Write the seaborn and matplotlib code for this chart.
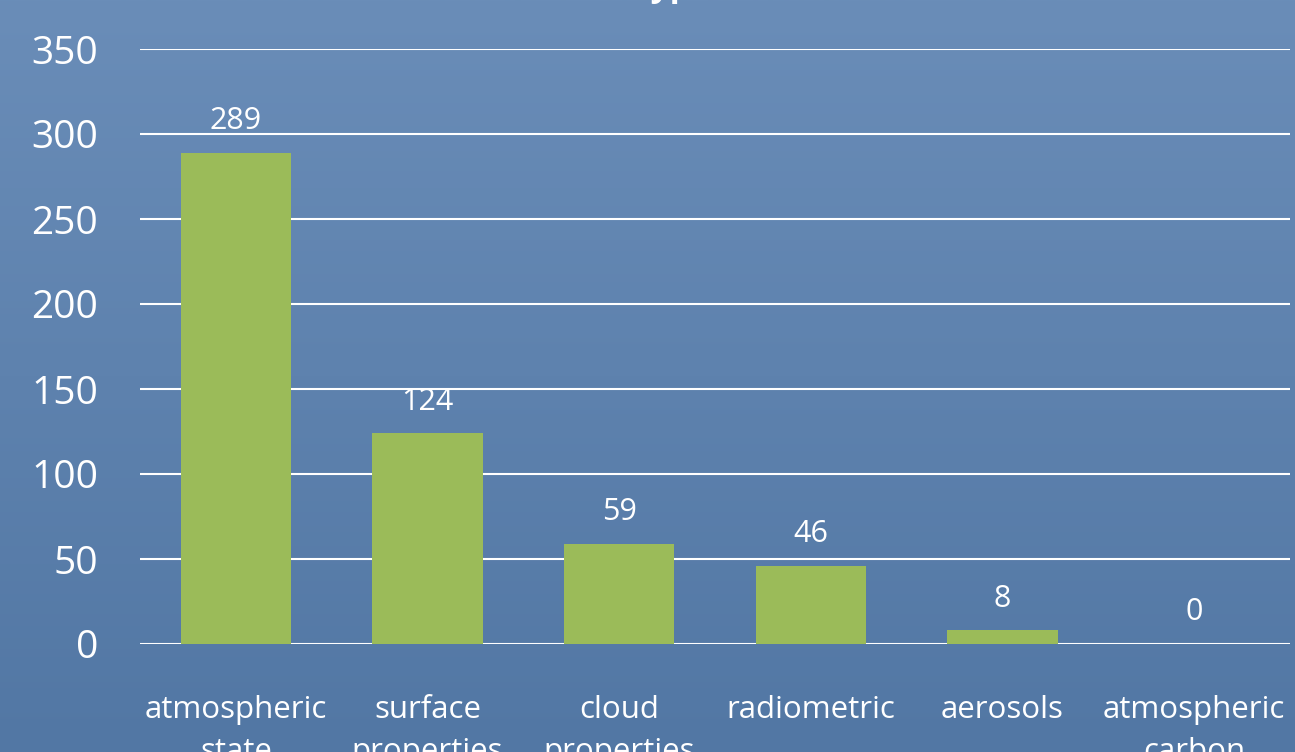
import numpy as np
import pandas as pd
import matplotlib
matplotlib.use("Agg")
import matplotlib.pyplot as plt
import seaborn as sns

categories = ["atmospheric\nstate", "surface\nproperties", "cloud\nproperties",
              "radiometric", "aerosols", "atmospheric\ncarbon"]
counts = [289, 124, 59, 46, 8, 0]
y_ticks = [0, 50, 100, 150, 200, 250, 300, 350]
title = "Data types"

sns.set_theme(style="white")
plt.rcParams["font.family"] = ["Open Sans", "DejaVu Sans"]

df = pd.DataFrame({"category": categories, "count": counts})

fig = plt.figure(figsize=(12.95, 7.52), dpi=100)

# background gradient over whole figure
bg = fig.add_axes([0, 0, 1, 1], zorder=-10)
top_c = np.array([106, 141, 184]) / 255
bot_c = np.array([82, 119, 164]) / 255
t = np.linspace(0, 1, 256)[:, None]
grad = (top_c * (1 - t) + bot_c * t)[:, None, :]
bg.imshow(grad, aspect="auto", extent=[0, 1, 0, 1])
bg.axis("off")

ax = fig.add_axes([140 / 1295, 108 / 752, 1150 / 1295, 595 / 752])
ax.patch.set_alpha(0)

sns.barplot(data=df, x="category", y="count", color="#9BBB59",
            width=0.574, saturation=1, ax=ax, zorder=3,
            edgecolor="none", linewidth=0)

for i, v in enumerate(counts):
    ax.annotate(str(v), (i, v), xytext=(0, 12), textcoords="offset points",
                ha="center", va="bottom", color="white", fontsize=22)

ax.set_ylim(0, 350)
ax.set_yticks(y_ticks)
ax.grid(axis="y", color="white", linewidth=1.5, zorder=0)
ax.set_axisbelow(True)
for s in ax.spines.values():
    s.set_visible(False)
ax.tick_params(axis="y", length=0, pad=30, labelsize=28, labelcolor="white")
ax.tick_params(axis="x", length=0, pad=37, labelsize=22.5, labelcolor="white")
for lbl in ax.get_xticklabels():
    lbl.set_linespacing(1.5)
ax.set_xlabel("")
ax.set_ylabel("")

# title sits mostly above the visible canvas, as in the source slide
fig.text(0.492, 1.005, title, ha="center", va="baseline", color="white",
         fontsize=24, fontweight="bold")

fig.savefig("out.png", dpi=100)
